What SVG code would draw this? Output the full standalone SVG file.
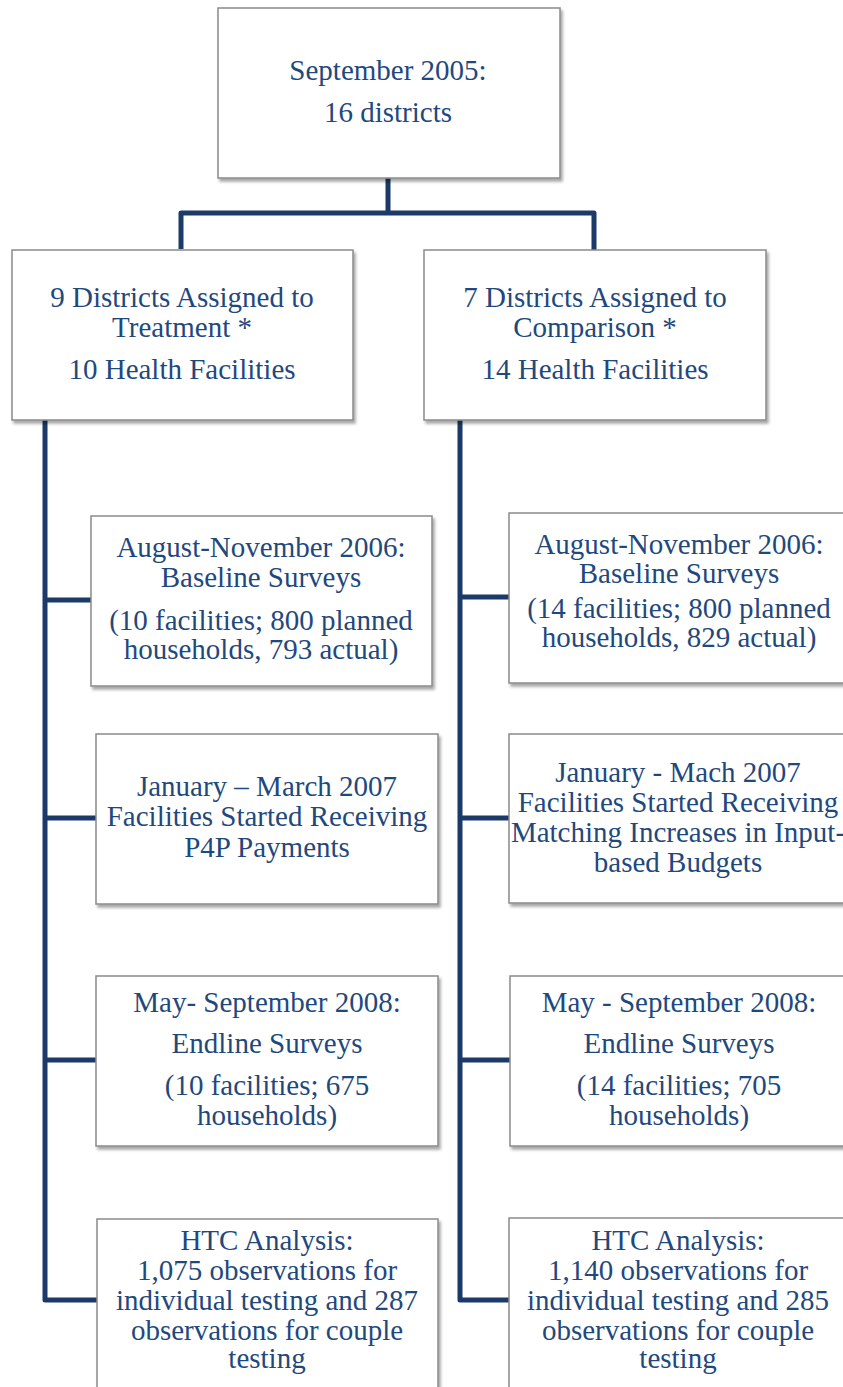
<svg xmlns="http://www.w3.org/2000/svg" width="843" height="1387" viewBox="0 0 843 1387" font-family="Liberation Serif, serif">
<defs>
<filter id="sh" x="-5%" y="-5%" width="115%" height="115%">
<feDropShadow dx="2" dy="3" stdDeviation="1.8" flood-color="#000" flood-opacity="0.35"/>
</filter>
<style>
.box{fill:#fff;stroke:#8a8a8a;stroke-width:1.5;filter:url(#sh)}
.t{font-size:29px;fill:#1F497D;text-anchor:middle}
.c{fill:none;stroke:#1B3A68;stroke-width:5;stroke-linejoin:round}
</style>
</defs>
<rect width="843" height="1387" fill="#fff"/>
<g id="connectors">
<path class="c" d="M388 178 V213"/>
<path class="c" d="M181 249 V213 H594 V250"/>
<path class="c" d="M45 420 V1300 H97"/>
<path class="c" d="M45 600 H91"/>
<path class="c" d="M45 818 H96"/>
<path class="c" d="M45 1060 H96"/>
<path class="c" d="M460 420 V1300 H509"/>
<path class="c" d="M460 597 H509"/>
<path class="c" d="M460 818 H509"/>
<path class="c" d="M460 1060 H510"/>
</g>
<g id="n-root" font-family="Liberation Serif, serif">
<rect class="box" x="218" y="8" width="342" height="170"/>
<text class="t" x="388" y="80">September 2005:</text>
<text class="t" x="388" y="122">16 districts</text>
</g>
<g id="n-treat" font-family="Liberation Serif, serif">
<rect class="box" x="12" y="250" width="341" height="170"/>
<text class="t" x="182" y="307">9 Districts Assigned to</text>
<text class="t" x="182" y="337">Treatment *</text>
<text class="t" x="182" y="379">10 Health Facilities</text>
</g>
<g id="n-comp" font-family="Liberation Serif, serif">
<rect class="box" x="424" y="250" width="342" height="170"/>
<text class="t" x="595" y="307">7 Districts Assigned to</text>
<text class="t" x="595" y="337">Comparison *</text>
<text class="t" x="595" y="379">14 Health Facilities</text>
</g>
<g id="n-t-baseline" font-family="Liberation Serif, serif">
<rect class="box" x="91" y="516" width="341" height="170"/>
<text class="t" x="261" y="557">August-November 2006:</text>
<text class="t" x="261" y="587">Baseline Surveys</text>
<text class="t" x="261" y="630">(10 facilities; 800 planned</text>
<text class="t" x="261" y="659">households, 793 actual)</text>
</g>
<g id="n-c-baseline" font-family="Liberation Serif, serif">
<rect class="box" x="509" y="513" width="342" height="170"/>
<text class="t" x="679" y="554">August-November 2006:</text>
<text class="t" x="679" y="583">Baseline Surveys</text>
<text class="t" x="679" y="618">(14 facilities; 800 planned</text>
<text class="t" x="679" y="647">households, 829 actual)</text>
</g>
<g id="n-t-payments" font-family="Liberation Serif, serif">
<rect class="box" x="96" y="734" width="342" height="170"/>
<text class="t" x="267" y="796">January – March 2007</text>
<text class="t" x="267" y="826">Facilities Started Receiving</text>
<text class="t" x="267" y="857">P4P Payments</text>
</g>
<g id="n-c-budgets" font-family="Liberation Serif, serif">
<rect class="box" x="509" y="734" width="342" height="169"/>
<text class="t" x="678" y="782">January - Mach 2007</text>
<text class="t" x="678" y="812">Facilities Started Receiving</text>
<text class="t" x="678" y="842">Matching Increases in Input-</text>
<text class="t" x="678" y="872">based Budgets</text>
</g>
<g id="n-t-endline" font-family="Liberation Serif, serif">
<rect class="box" x="96" y="976" width="342" height="170"/>
<text class="t" x="267" y="1012">May- September 2008:</text>
<text class="t" x="267" y="1053">Endline Surveys</text>
<text class="t" x="267" y="1095">(10 facilities; 675</text>
<text class="t" x="267" y="1125">households)</text>
</g>
<g id="n-c-endline" font-family="Liberation Serif, serif">
<rect class="box" x="510" y="976" width="342" height="170"/>
<text class="t" x="679" y="1012">May - September 2008:</text>
<text class="t" x="679" y="1053">Endline Surveys</text>
<text class="t" x="679" y="1095">(14 facilities; 705</text>
<text class="t" x="679" y="1125">households)</text>
</g>
<g id="n-t-htc" font-family="Liberation Serif, serif">
<rect class="box" x="97" y="1219" width="341" height="200"/>
<text class="t" x="267" y="1250">HTC Analysis:</text>
<text class="t" x="267" y="1280">1,075 observations for</text>
<text class="t" x="267" y="1310">individual testing and 287</text>
<text class="t" x="267" y="1340">observations for couple</text>
<text class="t" x="267" y="1368">testing</text>
</g>
<g id="n-c-htc" font-family="Liberation Serif, serif">
<rect class="box" x="509" y="1218" width="342" height="200"/>
<text class="t" x="678" y="1250">HTC Analysis:</text>
<text class="t" x="678" y="1280">1,140 observations for</text>
<text class="t" x="678" y="1310">individual testing and 285</text>
<text class="t" x="678" y="1340">observations for couple</text>
<text class="t" x="678" y="1368">testing</text>
</g>
</svg>
